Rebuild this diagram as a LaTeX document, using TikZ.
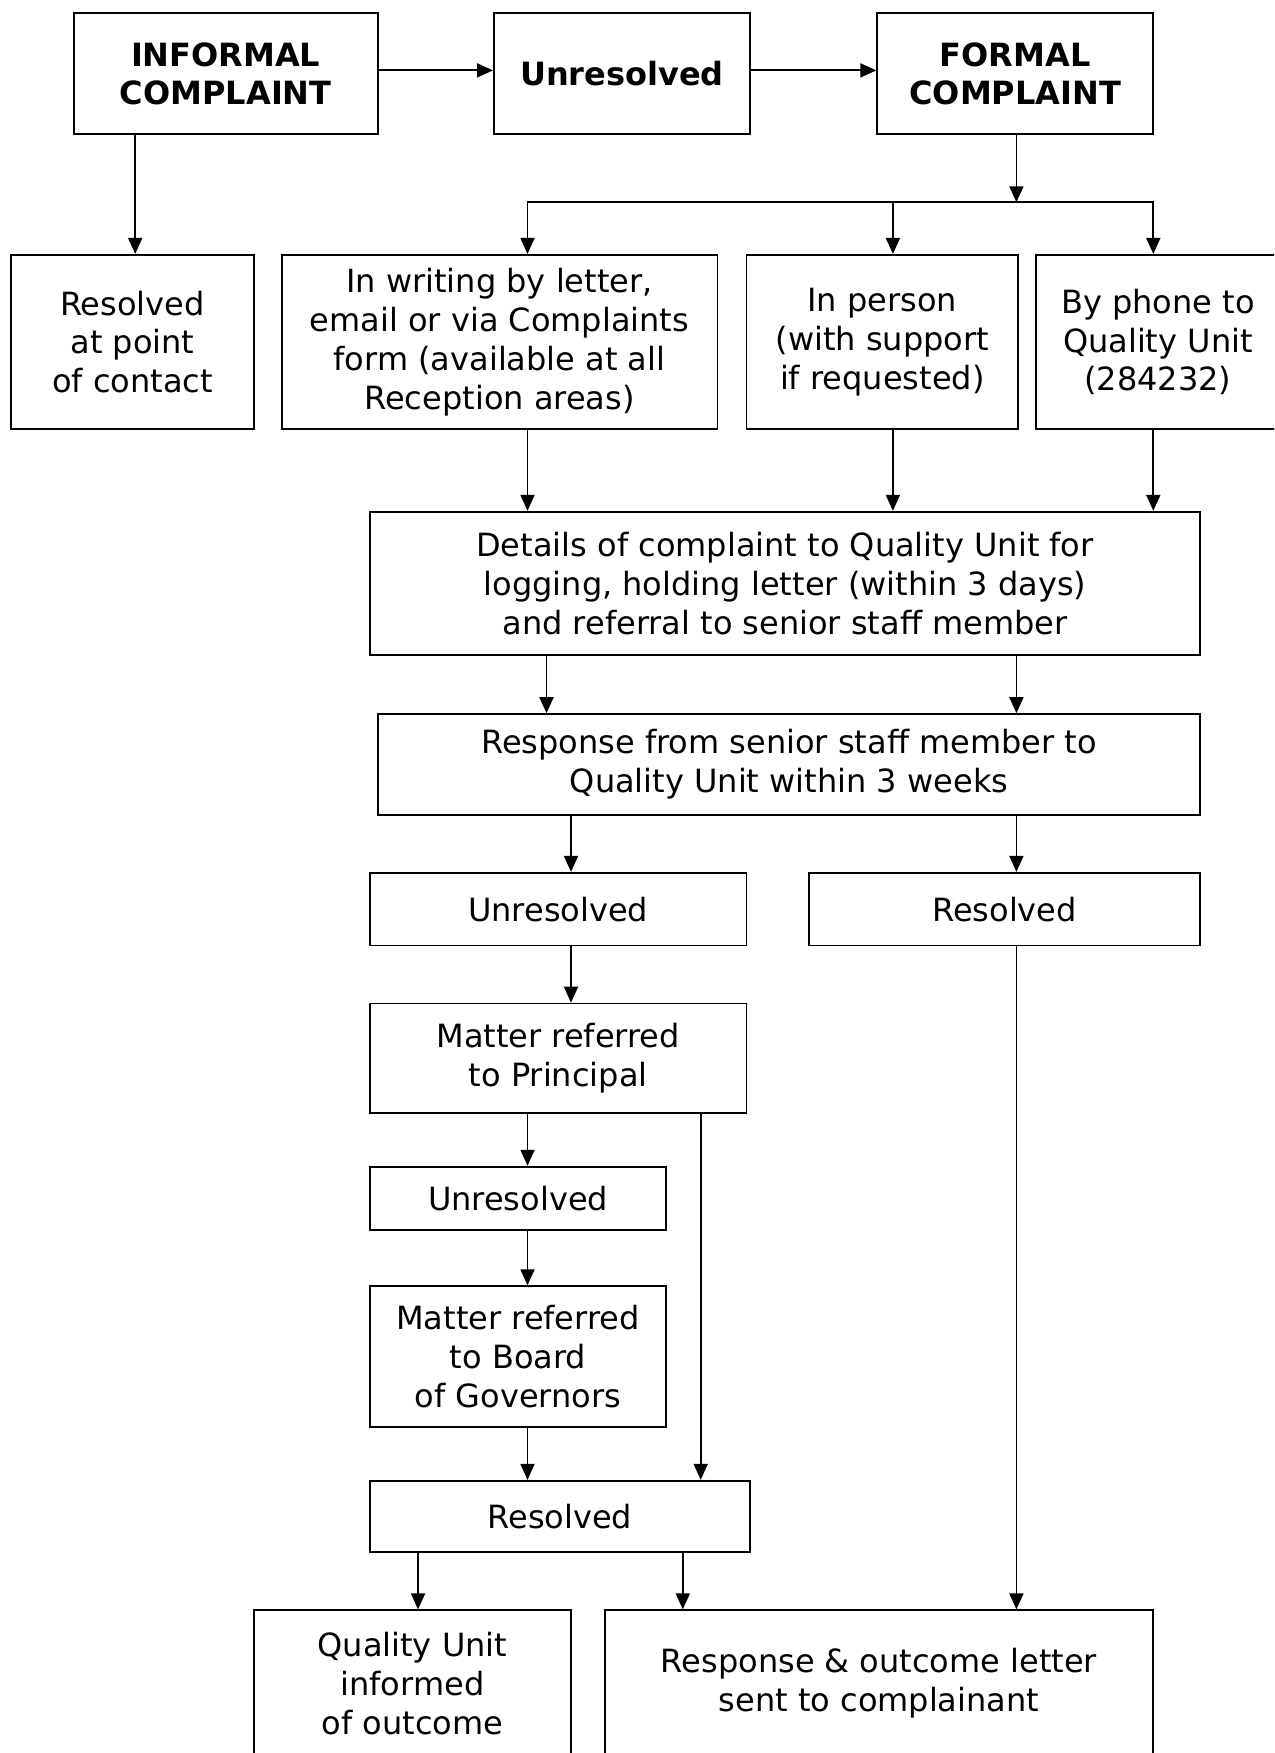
\documentclass[tikz,border=0pt]{standalone}
\usepackage{fontspec}
\setmainfont{DejaVu Sans}
\usetikzlibrary{arrows.meta}

\begin{document}
\begin{tikzpicture}[x=1pt, y=-1pt, line width=1.8pt,
  box/.style={draw, align=center, inner sep=0pt, font=\fontsize{32}{38.8}\selectfont},
  head/.style={box, font=\fontsize{32}{38.8}\selectfont\bfseries},
  >={Triangle[length=16pt,width=14pt]}]
\useasboundingbox (0,0) rectangle (1274,1753);
\clip (0,0) rectangle (1274,1753);
% columns of the connectors
\coordinate (cA) at (135.2,0);
\coordinate (cB) at (527.5,0);
\coordinate (cC) at (892.9,0);
\coordinate (cD) at (1153.3,0);
\coordinate (cE) at (1016.4,0);
\coordinate (cF) at (546.5,0);
\coordinate (cG) at (571.0,0);
\coordinate (cH) at (700.7,0);
\coordinate (cI) at (418.0,0);
\coordinate (cJ) at (682.8,0);
\coordinate (top) at (0,70.4);
\coordinate (bar) at (1016.4,202.3);

\node[head, minimum width=304pt, minimum height=121pt] (informal) at (225.7,73.8) {INFORMAL\\COMPLAINT};
\node[head, minimum width=256pt, minimum height=121pt] (unres0) at (621.9,73.8) {Unresolved};
\node[head, minimum width=276pt, minimum height=121pt] (formal) at (1015.2,73.8) {FORMAL\\COMPLAINT};
\draw[->] (informal.east |- top) -- (unres0.west |- top);
\draw[->] (unres0.east |- top) -- (formal.west |- top);

\node[box, minimum width=242.5pt, minimum height=174.3pt] (atpoint) at (132.4,342) {Resolved\\at point\\of contact};
\node[box, minimum width=435.8pt, minimum height=174.3pt] (writing) at (499.5,342) {In writing by letter,\\email or via Complaints\\form (available at all\\Reception areas)};
\node[box, minimum width=271.5pt, minimum height=174.3pt] (person) at (882.3,342) {In person\\(with support\\if requested)};
\node[box, minimum width=244pt, minimum height=174.3pt] (phone) at (1157.9,342) {By phone to\\Quality Unit\\(284232)};
\draw[->] (informal.south -| cA) -- (atpoint.north -| cA);
\draw[->] (formal.south -| bar) -- (bar);
\draw[<->] (writing.north -| cB) |- (bar) -| (phone.north -| cD);
\draw[->] (bar -| cC) -- (person.north -| cC);

\node[box, minimum width=830.3pt, minimum height=143.1pt] (details) at (785,583.3) {Details of complaint to Quality Unit for\\logging, holding letter (within 3 days)\\and referral to senior staff member};
\foreach \c/\n in {cB/writing, cC/person, cD/phone}
  \draw[->] (\n.south -| \c) -- (details.north -| \c);

\node[box, minimum width=822.5pt, minimum height=100.6pt] (response) at (789,764.4) {Response from senior staff member to\\Quality Unit within 3 weeks};
\draw[->] (details.south -| cF) -- (response.north -| cF);
\draw[->] (details.south -| cE) -- (response.north -| cE);

\node[box, minimum width=376.6pt, minimum height=72.6pt] (unres1) at (558.2,909.1) {Unresolved};
\node[box, minimum width=391.1pt, minimum height=72.6pt] (resolved1) at (1004.6,909.1) {Resolved};
\draw[->] (response.south -| cG) -- (unres1.north -| cG);
\draw[->] (response.south -| cE) -- (resolved1.north -| cE);

\node[box, minimum width=376.6pt, minimum height=109.5pt] (principal) at (558.2,1058.3) {Matter referred\\to Principal};
\draw[->] (unres1.south -| cG) -- (principal.north -| cG);

\node[box, minimum width=296.1pt, minimum height=63.7pt] (unres2) at (518,1198.5) {Unresolved};
\node[box, minimum width=296.1pt, minimum height=140.8pt] (board) at (518,1356.6) {Matter referred\\to Board\\of Governors};
\node[box, minimum width=379.9pt, minimum height=71.5pt] (resolved2) at (559.9,1516.5) {Resolved};
\draw[->] (principal.south -| cB) -- (unres2.north -| cB);
\draw[->] (unres2.south -| cB) -- (board.north -| cB);
\draw[->] (board.south -| cB) -- (resolved2.north -| cB);
\draw[->] (principal.south -| cH) -- (resolved2.north -| cH);

\node[box, minimum width=317.3pt, minimum height=146pt] (quality) at (412.4,1683.3) {Quality Unit\\informed\\of outcome};
\node[box, minimum width=548.7pt, minimum height=146pt] (outcome) at (879,1683.3) {Response \& outcome letter\\sent to complainant};
\draw[->] (resolved2.south -| cI) -- (quality.north -| cI);
\draw[->] (resolved2.south -| cJ) -- (outcome.north -| cJ);
\draw[->] (resolved1.south -| cE) -- (outcome.north -| cE);
\end{tikzpicture}
\end{document}
